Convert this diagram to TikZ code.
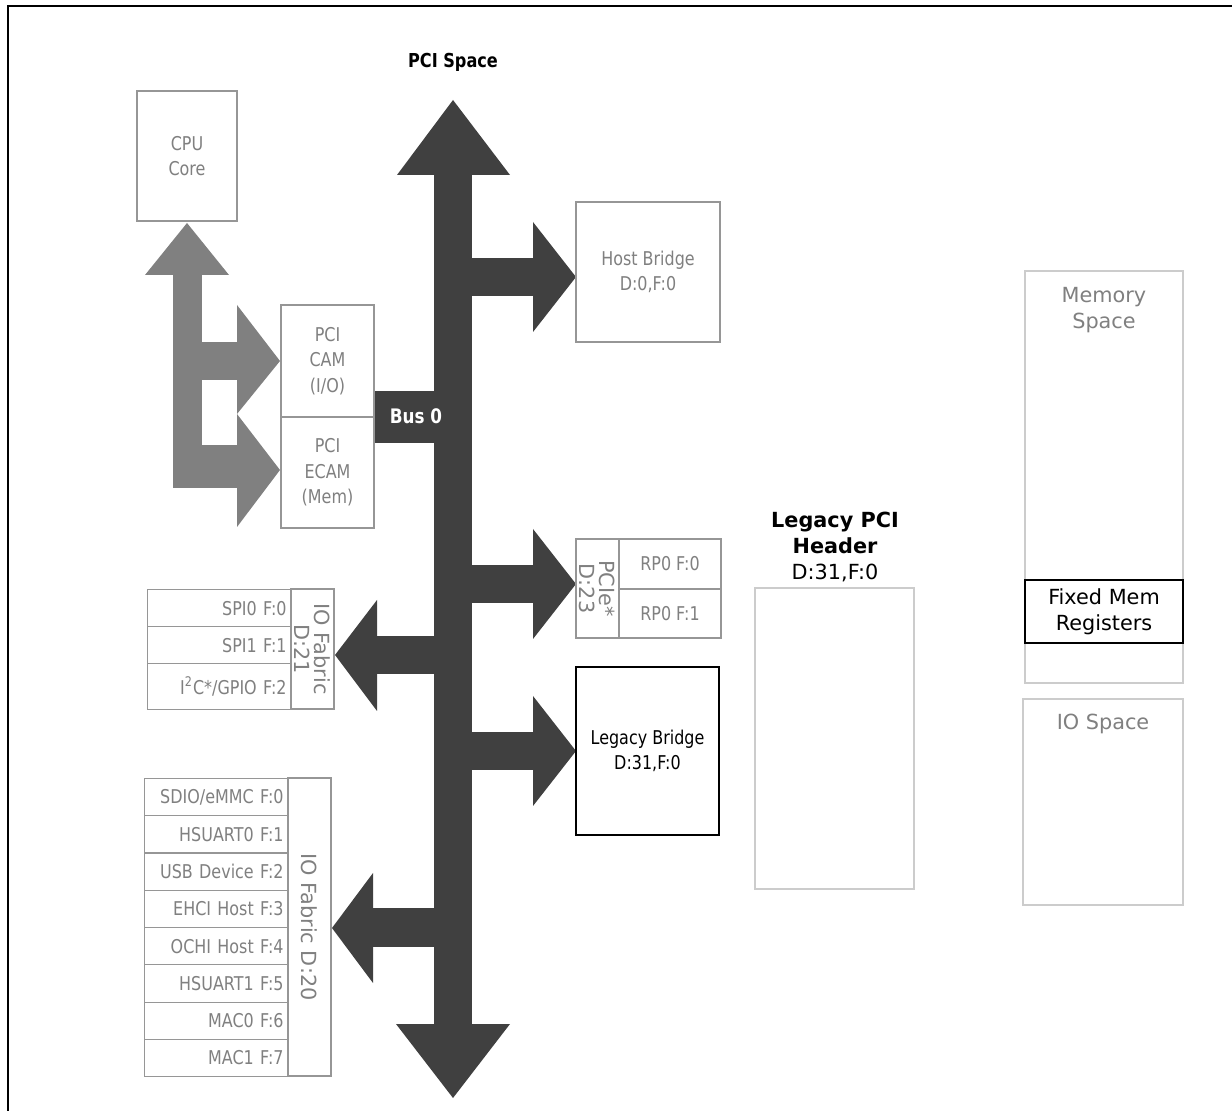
\documentclass[tikz,border=0pt]{standalone}
\usepackage{fontspec}
\setmainfont{DejaVu Sans}
\newfontfamily\narrowfont[FakeStretch=0.84]{DejaVu Sans}
\usetikzlibrary{positioning}
\definecolor{busDark}{RGB}{64,64,64}
\definecolor{camGray}{RGB}{128,128,128}
\definecolor{boxGray}{RGB}{150,150,150}
\definecolor{paleGray}{RGB}{204,204,204}
\definecolor{labelGray}{RGB}{128,128,128}
\tikzset{
  devbox/.style={draw=boxGray,fill=white,line width=.6pt,inner sep=0pt,align=center,text=labelGray,font=\narrowfont\fontsize{9.5}{12.8}\selectfont},
  rowcell/.style={devbox,anchor=north west,minimum width=72pt,text width=67pt,inner xsep=2.5pt,align=right},
  fabcol/.style={draw=boxGray,line width=.6pt,inner sep=0pt,align=center,text=labelGray,rotate=-90,font=\fontsize{10.4}{10}\selectfont},
  spacebox/.style={draw=paleGray,fill=white,line width=.6pt,inner sep=0pt},
  spacetext/.style={text=labelGray,align=center,font=\fontsize{10.4}{13}\selectfont},
}

\begin{document}
\begin{tikzpicture}[x=0.5pt,y=-0.5pt]
\useasboundingbox (0,0) rectangle (1232,1111);
\draw[line width=.7pt] (8,1111) -- (8,6) -- (1232,6);

% PCI bus
\fill[busDark] (434,175) rectangle (472,1024);
\fill[busDark] (397,175) -- (453,100) -- (510,175) -- cycle;
\fill[busDark] (396,1024) -- (453,1098) -- (510,1024) -- cycle;
\fill[busDark] (472,258) rectangle (533,296);
\fill[busDark] (533,222) -- (576,277) -- (533,332) -- cycle;
\fill[busDark] (374,391) rectangle (434,443);
\fill[busDark] (472,565) rectangle (533,603);
\fill[busDark] (533,529) -- (576,584) -- (533,639) -- cycle;
\fill[busDark] (377,636) rectangle (434,674);
\fill[busDark] (377,600) -- (335,655) -- (377,711) -- cycle;
\fill[busDark] (472,732) rectangle (533,770);
\fill[busDark] (533,696) -- (576,751) -- (533,806) -- cycle;
\fill[busDark] (373,908) rectangle (434,947);
\fill[busDark] (373,873) -- (332,928) -- (373,983) -- cycle;

% CPU access arrows
\fill[camGray] (173,275) rectangle (202,488);
\fill[camGray] (145,275) -- (187,223) -- (229,275) -- cycle;
\fill[camGray] (202,342) rectangle (237,380);
\fill[camGray] (237,305) -- (280,361) -- (237,414) -- cycle;
\fill[camGray] (202,445) rectangle (237,488);
\fill[camGray] (237,414) -- (280,470) -- (237,527) -- cycle;

\node[font=\narrowfont\bfseries\fontsize{9.6}{12}\selectfont] (pcispace) at (453,62) {PCI Space};
\node[text=white,font=\narrowfont\bfseries\fontsize{10}{12}\selectfont] (bus0) at (416,416) {Bus 0};

\node[devbox,minimum width=50pt,minimum height=65pt] (cpu) at (187,156) {CPU\\Core};
\node[devbox,minimum width=46.5pt,minimum height=56pt] (cam) at (327.5,361) {PCI\\CAM\\(I/O)};
\node[devbox,minimum width=46.5pt,minimum height=55.5pt] (ecam) at (327.5,472.5) {PCI\\ECAM\\(Mem)};
\node[devbox,minimum width=72pt,minimum height=70pt] (host) at (648,272) {Host Bridge\\D:0,F:0};

% PCIe root ports
\node[fabcol,minimum width=49.5pt,minimum height=21.5pt] (pcie) at (597.5,588.5) {PCIe*\\D:23};
\node[devbox,minimum width=51pt,minimum height=25pt] (rp0) at (670,564) {RP0 F:0};
\node[devbox,minimum width=51pt,minimum height=24.5pt] (rp1) at (670,613.5) {RP0 F:1};

% IO fabric D:21
\node[rowcell,minimum height=18.5pt] (spi0) at (147,589) {SPI0 F:0};
\node[rowcell,minimum height=18.5pt] (spi1) at (147,626) {SPI1 F:1};
\node[rowcell,minimum height=23pt] (i2c) at (147,663) {I\textsuperscript{2}C*/GPIO F:2};
\node[fabcol,minimum width=60pt,minimum height=21.5pt] (fab21) at (312.5,649) {IO Fabric\\D:21};

\node[devbox,draw=black,text=black,minimum width=71.5pt,minimum height=84pt] (legbridge) at (647.5,751) {Legacy Bridge\\D:31,F:0};

% IO fabric D:20
\foreach \lbl [count=\i from 0] in {SDIO/eMMC F:0,HSUART0 F:1,USB Device F:2,EHCI Host F:3,OCHI Host F:4,HSUART1 F:5,MAC0 F:6,MAC1 F:7}
  \node[rowcell,minimum height=18.625pt] (sdrow\i) at (144,{778+37.25*\i}) {\lbl};
\node[fabcol,minimum width=149pt,minimum height=21.5pt] (fab20) at (309.5,927) {IO Fabric D:20};

% legacy header and address spaces
\node[align=center,font=\fontsize{10.4}{12.8}\selectfont] (leghdrtitle) at (835,547) {\textbf{Legacy PCI}\\\textbf{Header}\\D:31,F:0};
\node[spacebox,minimum width=79.5pt,minimum height=150.5pt] (leghdr) at (834.5,738.5) {};

\node[spacebox,minimum width=79pt,minimum height=206pt] (memspace) at (1104,477) {};
\node[spacetext] (memtitle) at (1104,310) {Memory\\Space};
\node[draw=black,fill=white,line width=.6pt,inner sep=0pt,align=center,minimum width=79pt,minimum height=31.5pt,font=\fontsize{10.4}{13}\selectfont] (fixedmem) at (1104,611.5) {Fixed Mem\\Registers};
\node[spacebox,minimum width=80pt,minimum height=103pt] (iospace) at (1103,802) {};
\node[spacetext] (iotitle) at (1103,724) {IO Space};
\end{tikzpicture}
\end{document}
